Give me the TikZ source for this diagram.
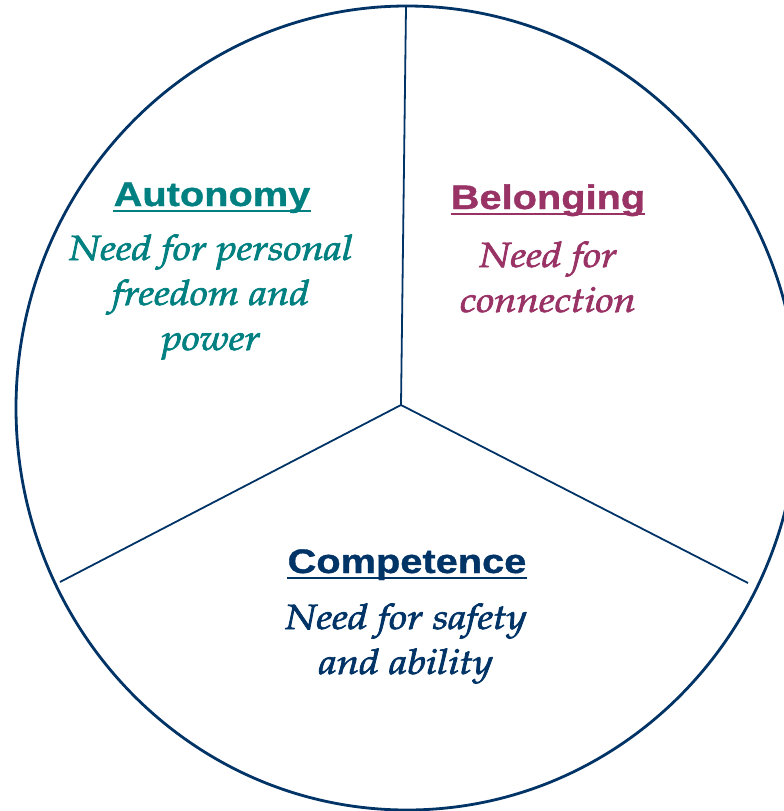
\documentclass[tikz,border=0pt]{standalone}
\usepackage[T1]{fontenc}
\usepackage{fontspec}
\usepackage{graphicx}
\newfontfamily\hdfont[FakeStretch=1.17,FakeBold=1]{Liberation Sans}
\newcommand\subfont{\fontencoding{T1}\fontfamily{ppl}\fontseries{m}\fontshape{it}\fontsize{35}{45}\selectfont}
\newcommand\wl[1]{\scalebox{1.15}[1]{\special{pdf:literal direct 2 Tr 0.7 w}#1\special{pdf:literal direct 0 Tr}}}
\definecolor{navy}{RGB}{0,51,102}
\definecolor{tealc}{RGB}{0,128,128}
\definecolor{plum}{RGB}{153,51,102}
\tikzset{
  hd/.style={inner sep=0pt, anchor=base, font=\hdfont\bfseries\fontsize{34}{40}\selectfont},
  sub/.style={inner sep=0pt, anchor=base, align=center, font=\subfont},
  spoke/.style={draw=navy, line width=1.8pt},
  uline/.style={line width=2pt},
}
\begin{document}
\begin{tikzpicture}[x=1pt,y=-1pt]
\useasboundingbox (0,0) rectangle (784,811);
\clip (0,0) rectangle (784,811);
\fill[white] (0,0) rectangle (784,811);
% circle
\draw[navy, line width=2.8pt] (407,408) ellipse [x radius=391, y radius=402];
% spokes
\coordinate (c) at (401,405);
\coordinate (t) at (406,7);
\coordinate (l) at (60,582);
\coordinate (r) at (748,583);
\draw[spoke] (c) -- (t);
\draw[spoke] (c) -- (l);
\draw[spoke] (c) -- (r);
% Autonomy
\node[hd, text=tealc] (autoh) at (212,206) {Autonomy};
\draw[tealc, uline] ([yshift=-4.5pt]autoh.base west) -- ([yshift=-4.5pt]autoh.base east);
\node[sub, text=tealc] (autos) at (211,350) {\wl{Need for personal}\\\wl{freedom and}\\\wl{power}};
% Belonging
\node[hd, text=plum] (belh) at (548,209) {Belonging};
\draw[plum, uline] ([yshift=-5pt]belh.base west) -- ([yshift=-5pt]belh.base east);
\node[sub, text=plum] (bels) at (548,312) {\wl{Need for}\\\wl{connection}};
% Competence
\node[hd, text=navy] (comh) at (407,573) {Competence};
\draw[navy, uline] ([yshift=-4.5pt]comh.base west) -- ([yshift=-4.5pt]comh.base east);
\node[sub, text=navy] (coms) at (406,674) {\wl{Need for safety}\\\wl{and ability}};
\end{tikzpicture}
\end{document}
